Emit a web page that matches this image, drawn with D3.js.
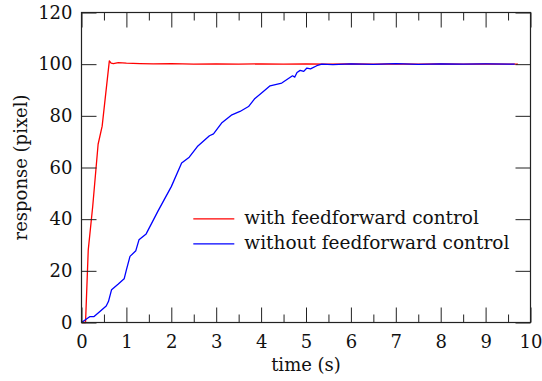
<!DOCTYPE html>
<html>
<head>
<meta charset="utf-8">
<script src="https://cdn.jsdelivr.net/npm/d3@7"></script>
<style>
    body { margin: 0; background: #fff; }
    text { font-family: "DejaVu Serif", serif; fill: #111; }
</style>
</head>
<body>
<div id="chart"></div>
<script>
// time (s) and response (pixel)
let redTime = [0, 0.09, 0.15, 0.25, 0.37, 0.46, 0.62, 0.66, 0.71, 0.82, 1.0, 1.3, 1.6, 2.0, 2.5, 3.0, 3.5, 4.0, 4.5, 5.0, 5.5, 6.0, 6.5, 7.0, 7.5, 8.0, 8.5, 9.0, 9.5, 9.72];
let redResp = [0, 0, 28, 45, 69, 76, 101.3, 100.4, 100.2, 100.6, 100.4, 100.2, 100.1, 100.2, 100.0, 100.1, 100.0, 100.1, 100.0, 100.1, 100.0, 100.1, 100.0, 100.1, 100.0, 100.1, 100.0, 100.1, 100.0, 100.0];

let blueTime = [0, 0.19, 0.28, 0.41, 0.55, 0.6, 0.67, 0.82, 0.95, 1.0, 1.08, 1.21, 1.28, 1.44, 1.7, 2.0, 2.23, 2.4, 2.58, 2.85, 2.94, 3.12, 3.35, 3.53, 3.72, 3.85, 4.05, 4.2, 4.46, 4.7, 4.75, 4.8, 4.87, 4.95, 5.02, 5.1, 5.24, 5.35, 5.6, 6.0, 6.5, 7.0, 7.5, 8.0, 8.5, 9.0, 9.65];
let blueResp = [0, 2.3, 2.3, 4.3, 6.4, 8.1, 12.7, 14.9, 16.9, 20.4, 25.6, 27.8, 32, 34.3, 43, 52.6, 61.7, 64, 68.1, 72.3, 73, 77.2, 80.4, 81.7, 83.6, 86.5, 89.4, 91.6, 92.7, 95.5, 95.0, 96.8, 97.6, 97.2, 98.5, 98.2, 99.4, 100, 99.8, 100.1, 99.9, 100.2, 99.9, 100.1, 100.0, 100.1, 100.0];

let xTicks = [0, 1, 2, 3, 4, 5, 6, 7, 8, 9, 10];
let xMinorTicks = [0.5, 1.5, 2.5, 3.5, 4.5, 5.5, 6.5, 7.5, 8.5, 9.5];
let yTicks = [0, 20, 40, 60, 80, 100, 120];

let legendNames = ["with feedforward control", "without feedforward control"];
let seriesColors = ["#ff0000", "#0000ff"];

let margin = {top: 12.5, right: 11.5, bottom: 58.5, left: 81.5};
let width = 542 - margin.left - margin.right;
let height = 381 - margin.top - margin.bottom;

let svg = d3.select("#chart").append("svg")
    .attr("width", 542)
    .attr("height", 381)
    .append("g")
    .attr("transform", `translate(${margin.left},${margin.top})`);

let x = d3.scaleLinear().domain([0, 10]).range([0, width]);
let y = d3.scaleLinear().domain([0, 120]).range([height, 0]);

// lines
let line = d3.line()
    .x(d => x(d[0]))
    .y(d => y(d[1]));

let series = [
    d3.zip(redTime, redResp),
    d3.zip(blueTime, blueResp)
];

// blue is drawn last, on top of red
series.forEach((s, i) => {
    svg.append("path")
        .datum(s)
        .attr("fill", "none")
        .attr("stroke", seriesColors[i])
        .attr("stroke-width", 1.3)
        .attr("stroke-linejoin", "round")
        .attr("d", line);
});

// axes, ticks pointing inward
function styleAxis(g) {
    g.select(".domain").remove();
    g.selectAll(".tick line").attr("stroke", "#222").attr("stroke-width", 1);
    g.selectAll(".tick text").style("font-size", "18px").attr("fill", "#111");
}

svg.append("g")
    .attr("transform", `translate(0,${height})`)
    .call(d3.axisBottom(x).tickValues(xTicks).tickSize(-15).tickPadding(13).tickFormat(d3.format("d")))
    .call(styleAxis);

svg.append("g")
    .attr("transform", `translate(0,${height})`)
    .call(d3.axisBottom(x).tickValues(xMinorTicks).tickSize(-8).tickFormat(""))
    .call(styleAxis);

svg.append("g")
    .call(d3.axisTop(x).tickValues(xTicks).tickSize(-15).tickFormat(""))
    .call(styleAxis);

svg.append("g")
    .call(d3.axisTop(x).tickValues(xMinorTicks).tickSize(-8).tickFormat(""))
    .call(styleAxis);

svg.append("g")
    .call(d3.axisLeft(y).tickValues(yTicks).tickSize(-15).tickPadding(9))
    .call(styleAxis);

svg.append("g")
    .attr("transform", `translate(${width},0)`)
    .call(d3.axisRight(y).tickValues(yTicks).tickSize(-15).tickFormat(""))
    .call(styleAxis);

// frame
svg.append("rect")
    .attr("width", width)
    .attr("height", height)
    .attr("fill", "none")
    .attr("stroke", "#222")
    .attr("stroke-width", 1.2);

// axis titles
svg.append("text")
    .attr("x", x(5))
    .attr("y", height + 48)
    .attr("text-anchor", "middle")
    .style("font-size", "18px")
    .text("time (s)");

svg.append("text")
    .attr("transform", `translate(${-55},${y(60)})rotate(-90)`)
    .attr("text-anchor", "middle")
    .style("font-size", "18px")
    .text("response (pixel)");

// legend
let legend = svg.append("g")
    .attr("transform", `translate(${x(2.49)},${y(40.1)})`);

legendNames.forEach((name, i) => {
    let row = legend.append("g").attr("transform", `translate(0,${i * 25})`);
    row.append("line")
        .attr("x1", 0).attr("x2", 41)
        .attr("stroke", seriesColors[i])
        .attr("stroke-width", 1.3);
    row.append("text")
        .attr("x", 51)
        .attr("y", 5.5)
        .style("font-size", "18.5px")
        .text(name);
});
</script>
</body>
</html>
